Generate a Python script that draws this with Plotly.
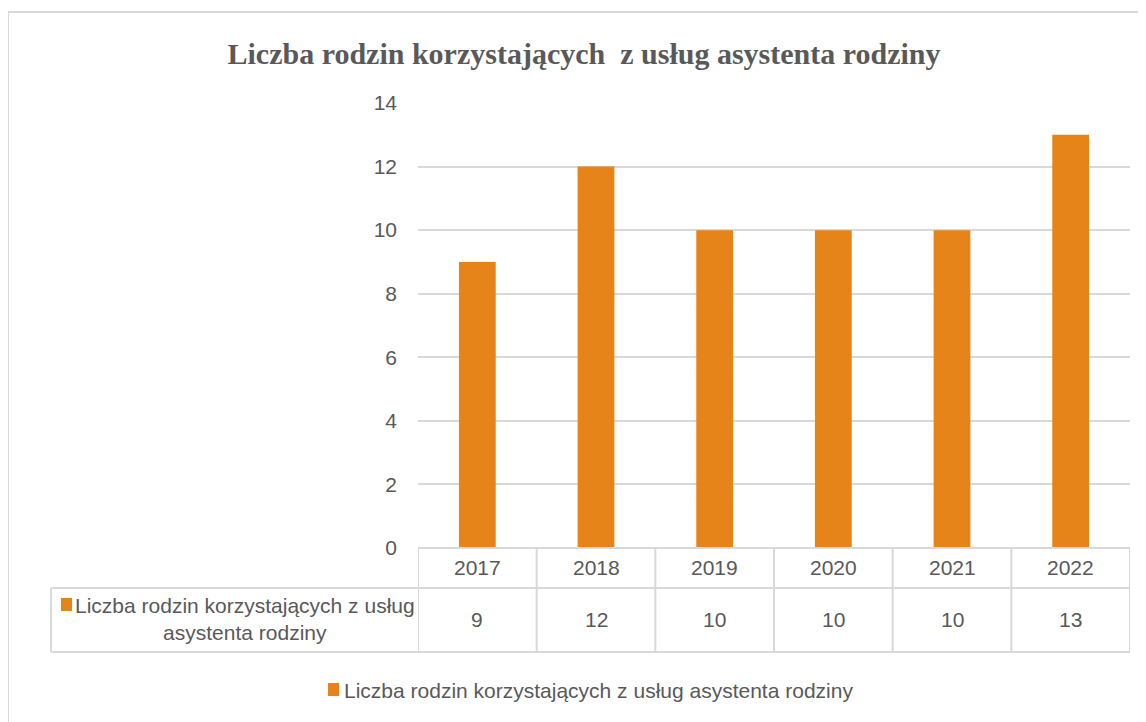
import plotly.graph_objects as go

years = ["2017", "2018", "2019", "2020", "2021", "2022"]
values = [9, 12, 10, 10, 10, 13]
series_name = "Liczba rodzin korzystających z usług asystenta rodziny"
row_label = "Liczba rodzin korzystających z usług<br>asystenta rodziny"
title_text = "Liczba rodzin korzystających  z usług asystenta rodziny"
y_ticks = [0, 2, 4, 6, 8, 10, 12, 14]

W, H = 1146, 722
OFF = 8  # page body margin offset
ORANGE = "#E6841A"
GRID = "#D9D9D9"
TXT = "#595959"
FONT = "Liberation Sans, Arial, sans-serif"
FS = 21

def px_x(p):
    return (p - OFF) / W

def px_y(p):
    return (H - (p - OFF)) / H

plot_left, plot_right = 418, 1130
plot_top, plot_bottom = 103, 548
hdr_bottom, row_bottom = 588, 652
table_left = 51

fig = go.Figure()
fig.add_trace(go.Bar(
    x=years, y=values, name=series_name,
    marker=dict(color=ORANGE, line=dict(width=0)),
    width=0.31, showlegend=False,
))

fig.update_layout(
    width=W, height=H,
    margin=dict(l=0, r=0, t=0, b=0, autoexpand=False),
    paper_bgcolor="white", plot_bgcolor="white",
    font=dict(family=FONT, color=TXT, size=FS),
    title=dict(text="<b>" + title_text + "</b>",
               font=dict(family="Liberation Serif, Times New Roman, serif", size=30, color=TXT),
               x=px_x(584), xanchor="center", y=px_y(53), yanchor="middle"),
    xaxis=dict(type="category", categoryorder="array", categoryarray=years,
               range=[-0.5, len(years) - 0.5],
               domain=[px_x(plot_left), px_x(plot_right)],
               showticklabels=False, automargin=False,
               showgrid=False, zeroline=False, showline=False, ticks=""),
    yaxis=dict(domain=[px_y(plot_bottom), px_y(plot_top)], range=[0, 14],
               tickvals=y_ticks, showgrid=True, gridcolor=GRID, gridwidth=2,
               automargin=False, zeroline=False, ticks="", ticklabelstandoff=20,
               tickfont=dict(size=FS, color=TXT)),
    showlegend=False,
)

shapes = []
# outer chart frame
shapes.append(dict(type="rect", xref="paper", yref="paper",
                   x0=px_x(8), x1=px_x(1170), y0=px_y(760), y1=px_y(12),
                   line=dict(color=GRID, width=2), fillcolor="rgba(0,0,0,0)", layer="below"))
n = len(years)
line = dict(color=GRID, width=2)
shapes.append(dict(type="line", xref="x", yref="paper", x0=-0.5, x1=n - 0.5,
                   y0=px_y(plot_bottom), y1=px_y(plot_bottom), line=line))
shapes.append(dict(type="line", xref="paper", yref="paper", x0=px_x(table_left), x1=px_x(plot_right),
                   y0=px_y(hdr_bottom), y1=px_y(hdr_bottom), line=line))
shapes.append(dict(type="line", xref="paper", yref="paper", x0=px_x(table_left), x1=px_x(plot_right),
                   y0=px_y(row_bottom), y1=px_y(row_bottom), line=line))
shapes.append(dict(type="line", xref="paper", yref="paper", x0=px_x(table_left), x1=px_x(table_left),
                   y0=px_y(hdr_bottom), y1=px_y(row_bottom), line=line))
for i in range(n + 1):
    shapes.append(dict(type="line", xref="x", yref="paper", x0=i - 0.5, x1=i - 0.5,
                       y0=px_y(plot_bottom), y1=px_y(row_bottom), line=line))
# series key square in the data table
shapes.append(dict(type="rect", xref="paper", yref="paper",
                   x0=px_x(61), x1=px_x(72), y0=px_y(611), y1=px_y(598),
                   fillcolor=ORANGE, line=dict(width=0)))
# legend key square at the bottom
shapes.append(dict(type="rect", xref="paper", yref="paper",
                   x0=px_x(328), x1=px_x(339), y0=px_y(696), y1=px_y(683),
                   fillcolor=ORANGE, line=dict(width=0)))
fig.update_layout(shapes=shapes)

annotations = []
for i, (yr, v) in enumerate(zip(years, values)):
    annotations.append(dict(x=i, xref="x", y=px_y(567), yref="paper", text=yr,
                            showarrow=False, xanchor="center", yanchor="middle",
                            font=dict(size=FS, color=TXT)))
    annotations.append(dict(x=i, xref="x", y=px_y(619), yref="paper", text=str(v),
                            showarrow=False, xanchor="center", yanchor="middle",
                            font=dict(size=FS, color=TXT)))
annotations.append(dict(x=px_x(245), xref="paper", y=px_y(619), yref="paper",
                        text=row_label, xanchor="center", yanchor="middle",
                        showarrow=False, align="center", font=dict(size=FS, color=TXT)))
annotations.append(dict(x=px_x(342), xref="paper", y=px_y(690), yref="paper",
                        text=series_name, xanchor="left", yanchor="middle",
                        showarrow=False, font=dict(size=FS, color=TXT)))
fig.update_layout(annotations=annotations)

fig.write_html("out.html")
